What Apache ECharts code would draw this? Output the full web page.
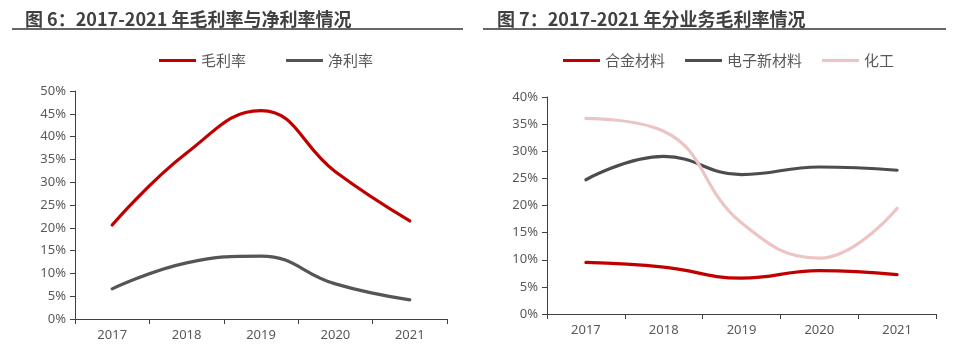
<!DOCTYPE html>
<html><head><meta charset="utf-8">
<script src="https://cdn.jsdelivr.net/npm/echarts@6/dist/echarts.min.js"></script>
<style>html,body{margin:0;padding:0;background:#fff}#c{width:953px;height:353px}</style>
</head><body><div id="c"></div>
<script>
const years = ['2017','2018','2019','2020','2021'];
const grossMargin = [20.6, 36.4, 45.7, 32.3, 21.5];
const netMargin = [6.6, 12.3, 13.8, 7.7, 4.2];
const alloy = [9.5, 8.65, 6.6, 8.0, 7.25];
const electronic = [24.75, 29.05, 25.7, 27.1, 26.5];
const chemical = [36.05, 33.7, 16.8, 10.3, 19.5];
const title1 = '图 6：2017-2021 年毛利率与净利率情况';
const title2 = '图 7：2017-2021 年分业务毛利率情况';

const FONT = '"Noto Sans", "Noto Sans CJK SC", sans-serif';
const CJK = '"Noto Sans CJK SC", sans-serif';
const chart = echarts.init(document.getElementById('c'));
const axisColor = '#404040';
const labelColor = '#595959';
function xAx(gi){return {type:'category',gridIndex:gi,data:years,boundaryGap:true,
  axisLine:{lineStyle:{color:axisColor,width:1}},axisTick:{show:true,length:5,lineStyle:{color:axisColor}},
  axisLabel:{color:labelColor,fontSize:13,fontFamily:FONT,margin:10},splitLine:{show:false}};}
function yAx(gi,max){return {type:'value',gridIndex:gi,min:0,max:max,interval:5,
  axisLine:{show:true,lineStyle:{color:axisColor,width:1}},axisTick:{show:true,length:5,lineStyle:{color:axisColor}},
  axisLabel:{color:labelColor,fontSize:13,fontFamily:FONT,formatter:'{value}%',margin:9},splitLine:{show:false}};}
function ln(name,data,color,xi){return {name:name,type:'line',xAxisIndex:xi,yAxisIndex:xi,data:data,smooth:0.45,
  symbol:'none',lineStyle:{color:color,width:3.2,cap:'round'},itemStyle:{color:color}};}
chart.setOption({
  animation:false,
  title:[
    {text:title1,left:20,top:5,textStyle:{fontFamily:CJK,fontSize:18,fontWeight:'bold',color:'#404040'}},
    {text:title2,left:492,top:5,textStyle:{fontFamily:CJK,fontSize:18,fontWeight:'bold',color:'#404040'}}
  ],
  graphic:[
    {type:'line',shape:{x1:12,y1:29,x2:463,y2:29},style:{stroke:'#666',lineWidth:2}},
    {type:'line',shape:{x1:483,y1:29,x2:946,y2:29},style:{stroke:'#666',lineWidth:2}}
  ],
  legend:[
    {data:['毛利率','净利率'],left:154,top:48,itemWidth:37,itemHeight:3,itemGap:40,icon:'rect',
     textStyle:{color:labelColor,fontSize:15,fontFamily:CJK}},
    {data:['合金材料','电子新材料','化工'],left:558,top:48,itemWidth:37,itemHeight:3,itemGap:20,icon:'rect',
     textStyle:{color:labelColor,fontSize:15,fontFamily:CJK}}
  ],
  grid:[
    {left:75,right:506,top:91,bottom:34},
    {left:547,right:17,top:97,bottom:39}
  ],
  xAxis:[xAx(0),xAx(1)],
  yAxis:[yAx(0,50),yAx(1,40)],
  series:[
    ln('毛利率',grossMargin,'#C00000',0),
    ln('净利率',netMargin,'#555555',0),
    ln('合金材料',alloy,'#C00000',1),
    ln('电子新材料',electronic,'#4D4D4D',1),
    ln('化工',chemical,'#ECC4C4',1)
  ]
});
</script></body></html>
